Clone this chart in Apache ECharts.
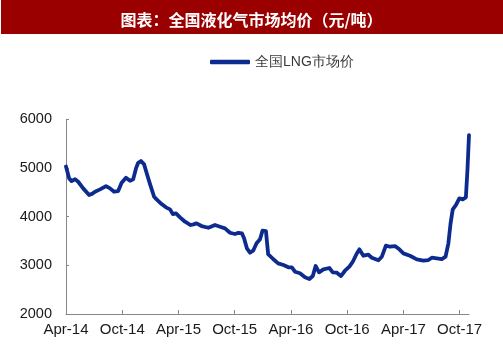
<!DOCTYPE html>
<html><head><meta charset="utf-8">
<script src="https://cdn.jsdelivr.net/npm/echarts@6/dist/echarts.min.js"></script>
<style>html,body{margin:0;padding:0;background:#fff}#c{width:503px;height:362px}</style>
</head><body><div id="c"></div>
<script>
const titleText = '图表：全国液化气市场均价（元/吨）';
const seriesName = '全国LNG市场价';
const tickLabels = ['Apr-14','Oct-14','Apr-15','Oct-15','Apr-16','Oct-16','Apr-17','Oct-17'];
const yTicks = [2000, 3000, 4000, 5000, 6000];
const dates = [
 '2014-04-01','2014-04-11','2014-04-19','2014-04-30','2014-05-10','2014-05-26','2014-06-15','2014-06-23',
 '2014-07-04','2014-07-20','2014-08-09','2014-08-22','2014-09-05','2014-09-18','2014-09-29','2014-10-13',
 '2014-10-26','2014-11-06','2014-11-15','2014-11-22','2014-12-01','2014-12-11','2014-12-21','2015-01-02',
 '2015-01-13','2015-01-21','2015-02-07','2015-02-21','2015-03-04','2015-03-13','2015-03-23','2015-04-06',
 '2015-04-22','2015-05-10','2015-05-19','2015-05-29','2015-06-15','2015-07-07','2015-07-28','2015-08-14',
 '2015-08-30','2015-09-16','2015-10-02','2015-10-13','2015-10-24','2015-11-01','2015-11-10','2015-11-20',
 '2015-11-30','2015-12-11','2015-12-22','2015-12-30','2016-01-11','2016-01-18','2016-02-04','2016-02-20',
 '2016-03-07','2016-03-23','2016-04-04','2016-04-14','2016-04-30','2016-05-16','2016-05-30','2016-06-11',
 '2016-06-20','2016-07-01','2016-07-15','2016-08-04','2016-08-15','2016-08-28','2016-09-11','2016-09-24',
 '2016-10-08','2016-10-19','2016-11-01','2016-11-10','2016-11-23','2016-12-09','2016-12-20','2017-01-11',
 '2017-01-22','2017-02-05','2017-02-18','2017-03-04','2017-03-18','2017-04-01','2017-04-22','2017-05-14',
 '2017-06-05','2017-06-21','2017-07-02','2017-07-18','2017-08-04','2017-08-16','2017-08-25','2017-09-02',
 '2017-09-09','2017-09-19','2017-09-30','2017-10-11','2017-10-21','2017-10-26','2017-10-31'
];
const prices = [
 5030,4786,4730,4772,4717,4581,4444,4464,
 4512,4560,4628,4581,4512,4525,4696,4799,
 4737,4766,4991,5107,5142,5074,4854,4628,
 4409,4355,4259,4191,4150,4053,4068,3986,
 3896,3828,3842,3862,3807,3772,3828,3793,
 3760,3669,3643,3669,3657,3554,3349,3259,
 3300,3452,3534,3711,3704,3232,3130,3041,
 3006,2959,2959,2869,2836,2753,2719,2780,
 2986,2856,2918,2945,2856,2849,2780,2889,
 2972,3074,3232,3328,3197,3218,3156,3103,
 3177,3403,3382,3396,3328,3246,3197,3123,
 3095,3109,3156,3144,3129,3177,3452,3862,
 4150,4238,4376,4355,4396,4957,5676
];
// month offset from Apr 2014
function monthOffset(s){const [y,m,d]=s.split('-').map(Number);return (y-2014)*12+(m-4)+(d-1)/30;}
const data = dates.map((d,i)=>[monthOffset(d), prices[i]]);
const tickPos = tickLabels.map((_,i)=>i*6);

const chart = echarts.init(document.getElementById('c'), null, {renderer:'canvas'});
chart.setOption({
  animation:false,
  backgroundColor:'#fff',
  title:{text:titleText,left:'center',top:7,textStyle:{color:'#fff',fontSize:16,fontWeight:'bold',fontFamily:'Noto Sans CJK SC'}},
  graphic:[{type:'rect',left:1,top:0,z:-1,shape:{width:502,height:34},style:{fill:'#9B0000'}}],
  legend:{left:205,top:50,icon:'roundRect',itemWidth:40,itemHeight:4.5,itemGap:5,
    textStyle:{fontSize:14,color:'#3a3a3a',fontFamily:'Arial, Liberation Sans'},data:[seriesName]},
  grid:{left:66,right:34,top:119.3,bottom:48,containLabel:false},
  xAxis:{type:'value',min:0,max:43,interval:6,
    axisLine:{lineStyle:{color:'#888',width:1}},
    axisTick:{inside:true,length:4,customValues:tickPos,lineStyle:{color:'#888'}},
    axisLabel:{customValues:tickPos,formatter:v=>tickLabels[Math.round(v/6)]||'',color:'#1a1a1a',fontSize:15,margin:8,fontFamily:'Arial, Liberation Sans'},
    splitLine:{show:false}},
  yAxis:{type:'value',min:yTicks[0],max:yTicks[yTicks.length-1],interval:1000,
    axisLine:{show:true,lineStyle:{color:'#888',width:1}},
    axisTick:{show:true,inside:true,length:3,lineStyle:{color:'#888'}},
    axisLabel:{formatter:v=>String(v),color:'#1a1a1a',fontSize:14.5,margin:14,fontFamily:'Arial, Liberation Sans'},
    splitLine:{show:false}},
  series:[{name:seriesName,type:'line',data:data,showSymbol:false,symbol:'none',
    lineStyle:{color:'#0D2A8E',width:3.8,join:'round',cap:'round'},itemStyle:{color:'#0D2A8E'}}]
});
</script></body></html>
